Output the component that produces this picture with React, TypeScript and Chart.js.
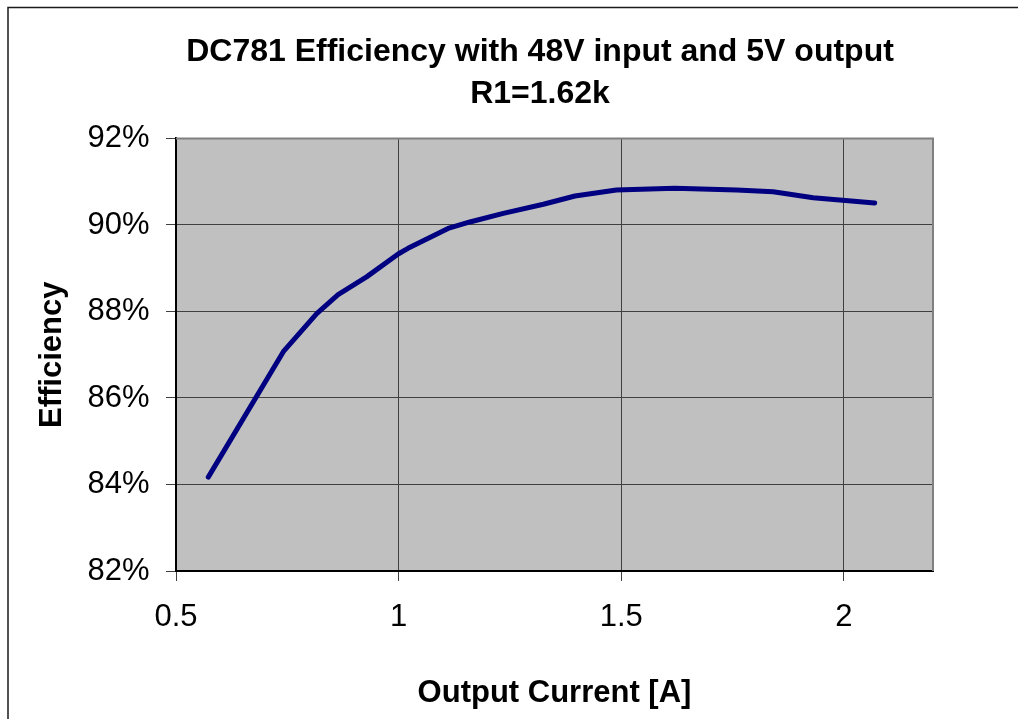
import React, { useEffect, useRef } from "react";
import { Chart, registerables } from "chart.js";

Chart.register(...registerables);

const currentA: number[] = [0.5725, 0.741, 0.816, 0.864, 0.928, 0.999, 1.021, 1.111, 1.16, 1.235, 1.325, 1.396, 1.489, 1.62, 1.759, 1.841, 1.931, 2.069];
const efficiencyPct: number[] = [84.17, 87.07, 87.95, 88.39, 88.8, 89.33, 89.46, 89.92, 90.07, 90.27, 90.48, 90.67, 90.81, 90.85, 90.81, 90.77, 90.63, 90.51];
const titleLines: string[] = ["DC781 Efficiency with 48V input and 5V output", "R1=1.62k"];
const xTitle = "Output Current [A]";
const yTitle = "Efficiency";
const xRange: number[] = [0.5, 2.2];
const yRange: number[] = [82, 92];

const FONT = "'Liberation Sans', Arial, Helvetica, sans-serif";

const decor = {
  id: "decor",
  beforeDraw(chart: any) {
    const { ctx, chartArea } = chart;
    ctx.save();
    ctx.fillStyle = "#ffffff";
    ctx.fillRect(0, 0, chart.width, chart.height);
    ctx.fillStyle = "#C0C0C0";
    ctx.fillRect(chartArea.left, chartArea.top, chartArea.right - chartArea.left, chartArea.bottom - chartArea.top);
    ctx.strokeStyle = "#1a1a1a";
    ctx.lineWidth = 1.5;
    ctx.strokeRect(8, 7.5, 1064, 900);
    ctx.restore();
  },
  beforeDatasetsDraw(chart: any) {
    const { ctx, chartArea } = chart;
    ctx.save();
    ctx.strokeStyle = "#808080";
    ctx.lineWidth = 2;
    ctx.beginPath();
    ctx.moveTo(chartArea.left, chartArea.top);
    ctx.lineTo(chartArea.right, chartArea.top);
    ctx.lineTo(chartArea.right, chartArea.bottom);
    ctx.stroke();
    ctx.restore();
  },
};

export default function App() {
  const ref = useRef<HTMLCanvasElement | null>(null);
  useEffect(() => {
    if (!ref.current) return;
    const chart = new Chart(ref.current, {
      type: "line",
      data: {
        datasets: [
          {
            data: currentA.map((x, i) => ({ x, y: efficiencyPct[i] })),
            borderColor: "#000080",
            backgroundColor: "#000080",
            borderWidth: 5,
            pointRadius: 0,
            tension: 0,
            borderCapStyle: "round",
            borderJoinStyle: "round",
            yAxisID: "y",
          },
        ],
      },
      options: {
        responsive: false,
        animation: false,
        devicePixelRatio: 1,
        layout: { padding: { left: 8, right: 8, top: 0, bottom: 0 } },
        plugins: {
          legend: { display: false },
          tooltip: { enabled: false },
          title: {
            display: true,
            text: titleLines,
            color: "#000",
            font: { family: FONT, size: 32, weight: "bold", lineHeight: 1.303 },
            padding: { top: 31.4, bottom: 23.7 },
          },
        },
        scales: {
          x: {
            type: "linear",
            min: xRange[0],
            max: xRange[1],
            afterFit: (s: any) => {
              s.height = 148;
            },
            ticks: {
              stepSize: 0.5,
              includeBounds: false,
              color: "#000",
              padding: 18,
              maxRotation: 0,
              font: { family: FONT, size: 31 },
              callback: (v: any) => String(v),
            },
            grid: { color: "#404040", lineWidth: 1, tickLength: 10, drawTicks: true },
            border: { display: true, color: "#000", width: 2 },
            title: {
              display: true,
              text: xTitle,
              color: "#000",
              font: { family: FONT, size: 31, weight: "bold", lineHeight: 1.2 },
              padding: { top: 0, bottom: 7 },
            },
          },
          y: {
            type: "linear",
            position: "left",
            min: yRange[0],
            max: yRange[1],
            afterFit: (s: any) => {
              s.width = 168;
            },
            ticks: {
              stepSize: 2,
              color: "#000",
              padding: 16.5,
              font: { family: FONT, size: 31 },
              callback: (v: any) => `${v}%`,
            },
            grid: { color: "#404040", lineWidth: 1, tickLength: 10, drawTicks: true },
            border: { display: true, color: "#000", width: 2 },
            title: {
              display: true,
              text: yTitle,
              color: "#000",
              font: { family: FONT, size: 31, weight: "bold", lineHeight: 1.2 },
              padding: { top: 26, bottom: 0 },
            },
          },
          yr: {
            type: "linear",
            position: "right",
            display: true,
            afterFit: (s: any) => {
              s.width = 139;
            },
            ticks: { display: false },
            grid: { display: false, drawTicks: false },
            border: { display: false },
          },
        },
      },
      plugins: [decor],
    } as any);
    return () => chart.destroy();
  }, []);
  return (
    <div style={{ position: "fixed", left: 0, top: 0, width: 1018, height: 719, overflow: "hidden", background: "#fff" }}>
      <canvas ref={ref} width={1080} height={719} style={{ display: "block" }} />
    </div>
  );
}
